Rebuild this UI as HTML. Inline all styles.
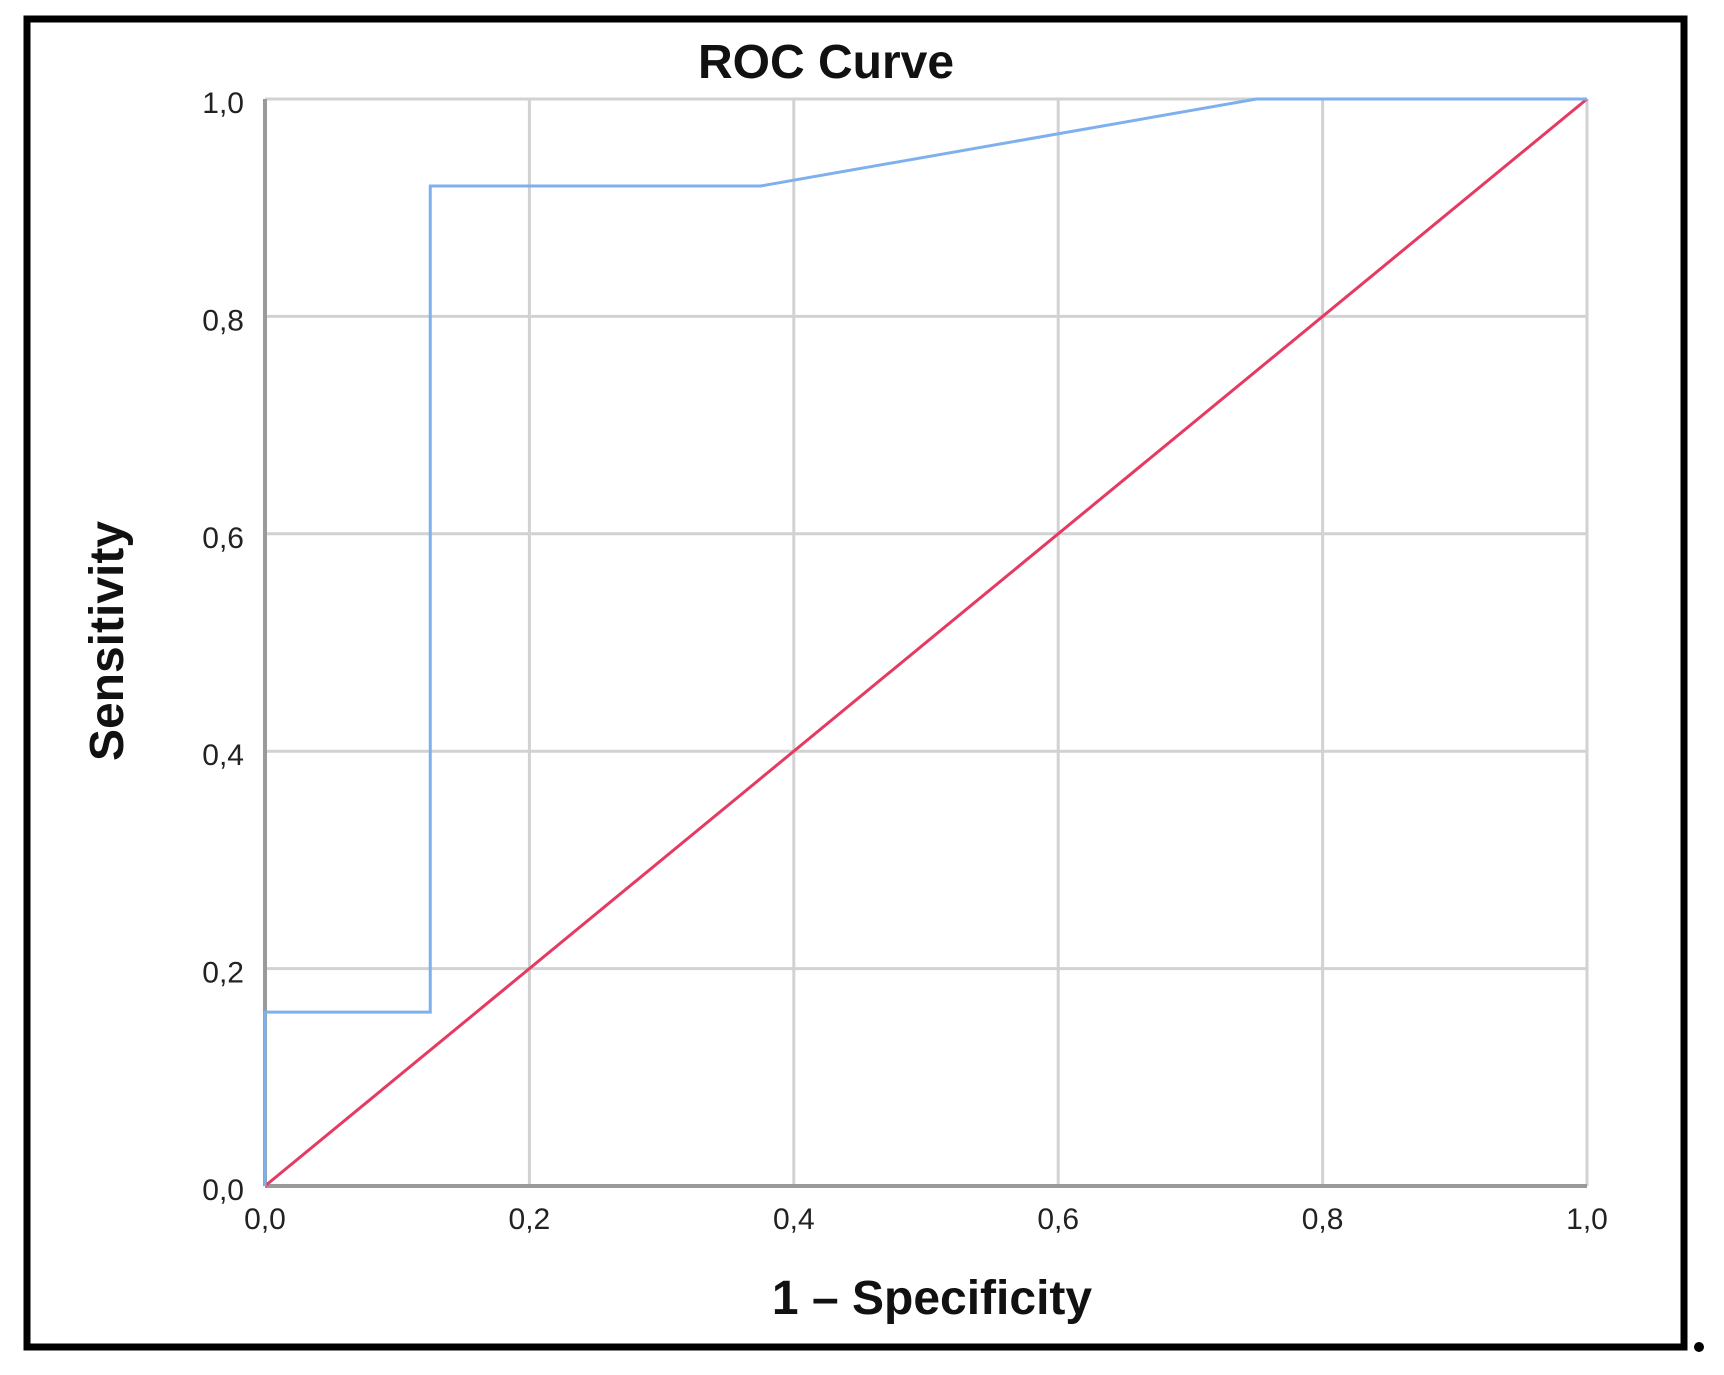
<!DOCTYPE html>
<html><head><meta charset="utf-8"><style>
html,body{margin:0;padding:0;background:#fff;}
svg{display:block;}
text{font-family:"Liberation Sans",sans-serif;}
</style></head><body>
<svg id="chart" width="1724" height="1375" viewBox="0 0 1724 1375">
<rect x="27" y="19" width="1657" height="1328" fill="none" stroke="#000" stroke-width="7"/>
<circle cx="1699" cy="1347" r="5" fill="#000"/>
<text x="826" y="78" font-size="48" font-weight="bold" text-anchor="middle" fill="#111">ROC Curve</text>
<g id="grid"></g>
<g id="axes"></g>
<g id="series"></g>
<text x="932" y="1314" font-size="48" font-weight="bold" text-anchor="middle" fill="#111">1 – Specificity</text>
<text transform="translate(123,641) rotate(-90)" font-size="48" font-weight="bold" text-anchor="middle" fill="#111">Sensitivity</text>
</svg>
<script>
const xTicks = [0, 0.2, 0.4, 0.6, 0.8, 1.0];
const yTicks = [0, 0.2, 0.4, 0.6, 0.8, 1.0];
const tickLabels = ["0,0", "0,2", "0,4", "0,6", "0,8", "1,0"];
const rocFpr = [0, 0, 0.125, 0.125, 0.375, 0.75, 1.0];
const rocTpr = [0, 0.16, 0.16, 0.92, 0.92, 1.0, 1.0];
const refFpr = [0, 1];
const refTpr = [0, 1];

const X0 = 265, X1 = 1587, Y0 = 1186, Y1 = 99;
function sx(v){ return X0 + v * (X1 - X0); }
function sy(v){ return Y0 - v * (Y0 - Y1); }
const NS = "http://www.w3.org/2000/svg";
function mk(tag, attrs, parent){
  const e = document.createElementNS(NS, tag);
  for (const k in attrs) e.setAttribute(k, attrs[k]);
  parent.appendChild(e); return e;
}
const grid = document.getElementById('grid');
const axes = document.getElementById('axes');
const series = document.getElementById('series');

xTicks.forEach((v, i) => {
  if (i > 0) {
    const l = mk('line', {x1: sx(v), x2: sx(v), y1: sy(0), y2: sy(1), stroke: '#d2d2d2', 'stroke-width': 3}, grid);
    
    
  }
  const t = mk('text', {x: sx(v), y: 1229, 'font-size': 30, 'text-anchor': 'middle', fill: '#222'}, axes);
  t.textContent = tickLabels[i];
  
  
});
yTicks.forEach((v, i) => {
  if (i > 0) {
    const l = mk('line', {x1: sx(0), x2: sx(1), y1: sy(v), y2: sy(v), stroke: '#d2d2d2', 'stroke-width': 3}, grid);
    
    
  }
  const t = mk('text', {x: 244, y: sy(v) + 14, 'font-size': 30, 'text-anchor': 'end', fill: '#222'}, axes);
  t.textContent = tickLabels[i];
  
  
});
const ya = mk('line', {x1: sx(0), x2: sx(0), y1: sy(1), y2: sy(0), stroke: '#9a9a9a', 'stroke-width': 4}, axes);


const xa = mk('line', {x1: sx(0), x2: sx(1), y1: sy(0), y2: sy(0), stroke: '#9a9a9a', 'stroke-width': 4}, axes);



const refPts = refFpr.map((v, i) => sx(v) + ',' + sy(refTpr[i])).join(' ');
const ref = mk('polyline', {points: refPts, fill: 'none', stroke: '#e53a62', 'stroke-width': 3}, series);


const rocPts = rocFpr.map((v, i) => sx(v) + ',' + sy(rocTpr[i])).join(' ');
const roc = mk('polyline', {points: rocPts, fill: 'none', stroke: '#7fb0ee', 'stroke-width': 3}, series);


</script>
</body></html>
